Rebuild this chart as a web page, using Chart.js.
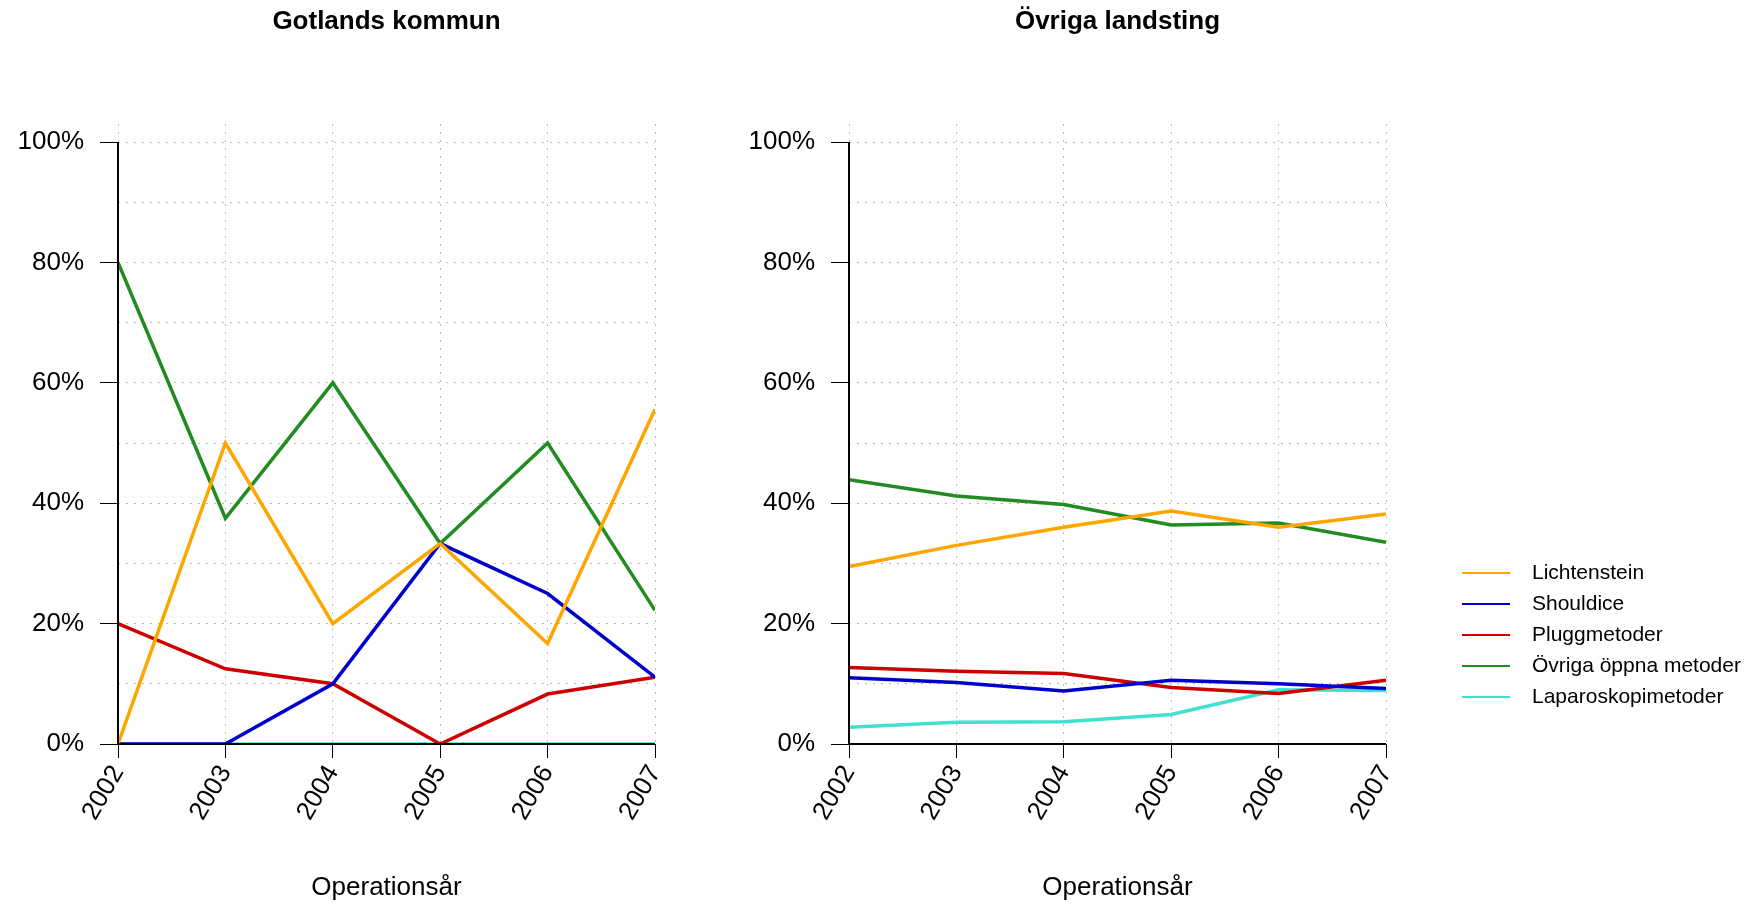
<!DOCTYPE html>
<html><head><meta charset="utf-8">
<script src="https://cdn.jsdelivr.net/npm/chart.js@4"></script>
<style>body{margin:0;background:#fff;width:1757px;height:907px;overflow:hidden;position:relative}
canvas{position:absolute;top:0}</style></head><body>
<canvas id="c1" style="left:0" width="700" height="907"></canvas>
<canvas id="c2" style="left:700px" width="1057" height="907"></canvas>
<script>
const years = [2002, 2003, 2004, 2005, 2006, 2007];
const seriesNames = ["Lichtenstein", "Shouldice", "Pluggmetoder", "Övriga öppna metoder", "Laparoskopimetoder"];
const seriesColors = ["#FFA500", "#0000CD", "#CD0000", "#228B22", "#40E0D0"];
const yTicks = [0,10,20,30,40,50,60,70,80,90,100];
const gotLicht = [0, 50, 20, 33.3, 16.7, 55.6];
const gotShould = [0, 0, 10, 33.3, 25, 11.1];
const gotPlugg = [20, 12.5, 10, 0, 8.3, 11.1];
const gotOvr = [80, 37.5, 60, 33.3, 50, 22.2];
const gotLap = [0, 0, 0, 0, 0, 0];
const ovrLicht = [29.5, 33, 36, 38.7, 36, 38.2];
const ovrShould = [11, 10.2, 8.8, 10.6, 10, 9.2];
const ovrPlugg = [12.7, 12.1, 11.7, 9.4, 8.4, 10.6];
const ovrOvr = [43.9, 41.2, 39.8, 36.4, 36.7, 33.5];
const ovrLap = [2.8, 3.6, 3.7, 4.9, 9, 8.9];

const FONT = "'Liberation Sans', Arial, sans-serif";
Chart.defaults.font.family = FONT;
Chart.defaults.color = '#000';

function makeDatasets(arrs){
  return arrs.map((a,i)=>({label:seriesNames[i],data:years.map((y,j)=>({x:y,y:a[j]})),
    borderColor:seriesColors[i],backgroundColor:seriesColors[i],borderWidth:3.5,pointRadius:0,tension:0,fill:false,order:i}));
}
const axisLines = {id:'axisLines',afterDraw(ch,args,opts){
  const c=ch.ctx,y=ch.scales.y,a=ch.chartArea;
  c.save();c.strokeStyle='#000';c.lineWidth=2;c.beginPath();
  c.moveTo(a.left,y.getPixelForValue(0));c.lineTo(a.left,y.getPixelForValue(100));
  c.moveTo(a.left,y.getPixelForValue(0));c.lineTo(a.right,y.getPixelForValue(0));c.stroke();
  c.font="bold 26px "+FONT;c.textAlign='center';c.textBaseline='middle';c.fillStyle='#000';
  c.fillText(opts.title,(a.left+a.right)/2,22);
  c.restore();
}};
const legendPlug = {id:'legendPlug',afterDraw(ch){
  const c=ch.ctx;c.save();c.font="21px "+FONT;c.textBaseline='middle';
  seriesNames.forEach((n,i)=>{const yy=573+i*31;
    c.strokeStyle=seriesColors[i];c.lineWidth=2;c.beginPath();c.moveTo(762,yy);c.lineTo(810,yy);c.stroke();
    c.fillStyle='#000';c.fillText(n,832,yy);});
  c.restore();
}};
function makeChart(id,title,arrs,yW,padRight,extra){
  new Chart(document.getElementById(id),{type:'line',
    data:{datasets:makeDatasets(arrs)},
    options:{responsive:false,animation:false,
      layout:{padding:{left:0,right:padRight,top:124,bottom:0}},
      plugins:{legend:{display:false},tooltip:{enabled:false},title:{display:false},
        axisLines:{title:title}},
      scales:{
        x:{type:'linear',min:2002,max:2007,
          afterBuildTicks:s=>{s.ticks=years.map(v=>({value:v}));},
          afterFit:s=>{s.height=163;},
          ticks:{font:{size:26},minRotation:60,maxRotation:60,callback:v=>String(v),padding:2},
          grid:{color:'#bbb',lineWidth:1,tickColor:'#000',tickLength:14},
          border:{display:false,dash:[2,6]},
          title:{display:true,text:'Operationsår',font:{size:26},padding:{top:0,bottom:4}}},
        y:{type:'linear',min:0,max:103,
          afterBuildTicks:s=>{s.ticks=yTicks.map(v=>({value:v}));},
          afterFit:s=>{s.width=yW;},
          ticks:{font:{size:26},padding:16,callback:v=>(v%20===0?v+'%':'')},
          grid:{color:c=>(c.tick&&c.tick.value===0?'rgba(0,0,0,0)':'#bbb'),lineWidth:1,tickLength:18,
            tickColor:c=>(c.tick&&c.tick.value%20===0?'#000':'rgba(0,0,0,0)')},
          border:{display:false,dash:[2,6]}}
      }},
    plugins:[axisLines].concat(extra)});
}
makeChart('c1','Gotlands kommun',[gotLicht,gotShould,gotPlugg,gotOvr,gotLap],118,45,[]);
makeChart('c2','Övriga landsting',[ovrLicht,ovrShould,ovrPlugg,ovrOvr,ovrLap],149,371,[legendPlug]);
</script></body></html>
